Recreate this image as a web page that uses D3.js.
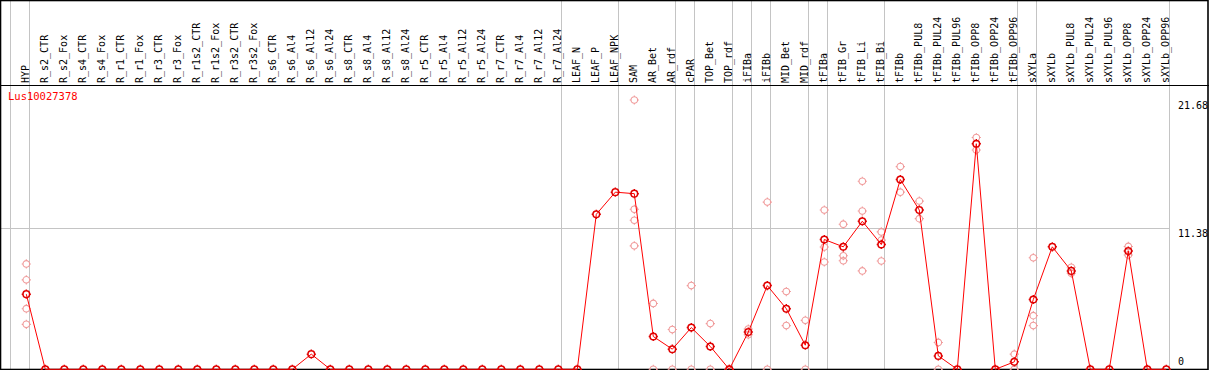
<!DOCTYPE html>
<html>
<head>
<meta charset="utf-8">
<script src="https://cdn.jsdelivr.net/npm/d3@7"></script>
<style>
  body { margin: 0; background: #fff; }
  svg { display: block; }
  text { font-family: "DejaVu Sans Mono", monospace; font-size: 10px; }
</style>
</head>
<body>
<svg id="chart" width="1209" height="370"></svg>
<script>
var title = "Lus10027378";

var samples = ["HYP",
  "R_s2_CTR", "R_s2_Fox", "R_s4_CTR", "R_s4_Fox", "R_r1_CTR", "R_r1_Fox", "R_r3_CTR", "R_r3_Fox",
  "R_r1s2_CTR", "R_r1s2_Fox", "R_r3s2_CTR", "R_r3s2_Fox",
  "R_s6_CTR", "R_s6_Al4", "R_s6_Al12", "R_s6_Al24", "R_s8_CTR", "R_s8_Al4", "R_s8_Al12", "R_s8_Al24",
  "R_r5_CTR", "R_r5_Al4", "R_r5_Al12", "R_r5_Al24", "R_r7_CTR", "R_r7_Al4", "R_r7_Al12", "R_r7_Al24",
  "LEAF_N", "LEAF_P", "LEAF_NPK",
  "SAM", "AR_Bet", "AR_rdf", "cPAR", "TOP_Bet", "TOP_rdf", "iFIBa", "iFIBb", "MID_Bet", "MID_rdf",
  "tFIBa", "tFIB_Gr", "tFIB_Li", "tFIB_Bi",
  "tFIBb", "tFIBb_PUL8", "tFIBb_PUL24", "tFIBb_PUL96", "tFIBb_OPP8", "tFIBb_OPP24", "tFIBb_OPP96",
  "sXYLa", "sXYLb", "sXYLb_PUL8", "sXYLb_PUL24", "sXYLb_PUL96", "sXYLb_OPP8", "sXYLb_OPP24", "sXYLb_OPP96"];

// how many samples in each block between the grey separators
var groupSizes = [1, 28, 3, 3, 1, 2, 1, 1, 2, 1, 3, 7, 1, 7];

var means = [6.05,
  0, 0, 0, 0, 0, 0, 0, 0,
  0, 0, 0, 0,
  0, 0, 1.22, 0, 0, 0, 0, 0,
  0, 0, 0, 0, 0, 0, 0, 0,
  0, 12.48, 14.26,
  14.14, 2.64, 1.62, 3.36, 1.84, 0, 3.0, 6.74, 4.88, 1.94,
  10.45, 9.86, 11.92, 10.05,
  15.28, 12.82, 1.08, 0, 18.16, 0, 0.6,
  5.62, 9.86, 7.92, 0, 0, 9.52, 0, 0];

// individual replicates (pale markers)
var reps = [[8.48, 7.2, 4.88, 3.62],
  [], [], [], [], [], [], [], [],
  [], [], [], [],
  [], [], [], [], [], [], [], [],
  [], [], [], [], [], [], [], [],
  [], [], [],
  [21.68, 12.88, 12.0, 9.94], [5.3, 0], [3.2, 0], [6.74, 0], [3.68, 0], [0, 0], [3.24, 2.78], [13.46, 0], [6.26, 3.52], [3.94, 0],
  [12.82, 9.84, 8.64], [11.68, 9.14, 8.74], [15.14, 12.74, 7.92], [11.06, 10.4, 8.72],
  [16.32, 14.26], [13.54, 12.13], [2.16, 0], [], [18.66, 17.65], [], [1.22, 0],
  [8.98, 4.32, 3.52], [], [8.21, 7.73], [], [], [9.89, 9.2], [], []];

var yTicks = [0, 11.38, 21.68];

var width = 1209, height = 370;
var headerBottom = 85;
var svg = d3.select("#chart");

var x = d3.scaleBand().domain(samples).range([11, 1170]);
var px = function (s) { return x(s) + 15.3; };
var y = d3.scaleLinear().domain([0, 21.68]).range([369.3, 100]);

// vertical separators
var bounds = [0];
groupSizes.reduce(function (acc, n) { bounds.push(acc + n); return acc + n; }, 0);
svg.append("g").selectAll("line")
  .data(bounds)
  .enter().append("line")
  .attr("x1", function (i) { return Math.round(x.range()[0] + i * x.step()) - 0.5; })
  .attr("x2", function (i) { return Math.round(x.range()[0] + i * x.step()) - 0.5; })
  .attr("y1", 0).attr("y2", height)
  .attr("stroke", "#c4c4c4").attr("stroke-width", 1);

// horizontal grid line at middle tick
svg.append("line")
  .attr("x1", 0).attr("x2", 1170)
  .attr("y1", Math.round(y(yTicks[1])) + 0.5).attr("y2", Math.round(y(yTicks[1])) + 0.5)
  .attr("stroke", "#c4c4c4");

// header labels
svg.append("g").selectAll("text")
  .data(samples)
  .enter().append("text")
  .attr("transform", function (d) { return "translate(" + (px(d) + 3) + "," + 83 + ") rotate(-90)"; })
  .attr("fill", "#000")
  .text(function (d) { return d; });

// frame
svg.append("line").attr("x1", 0).attr("x2", width).attr("y1", headerBottom + 0.5).attr("y2", headerBottom + 0.5).attr("stroke", "#000");
svg.append("rect").attr("x", 0.5).attr("y", 0.5).attr("width", width - 1.5).attr("height", height - 1)
  .attr("fill", "none").attr("stroke", "#000").attr("stroke-width", 1.6);

// y labels
svg.append("g").selectAll("text")
  .data(yTicks)
  .enter().append("text")
  .attr("x", 1178)
  .attr("y", function (d) { return d === 0 ? y(d) - 4 : y(d) + 9; })
  .text(function (d) { return d; });

svg.append("text").attr("x", 8).attr("y", 100).attr("fill", "#f00").style("font-size", "10.5px").text(title);

function marker(r, t) {
  return "M" + r + ",0A" + r + "," + r + " 0 1,1 " + (-r) + ",0A" + r + "," + r + " 0 1,1 " + r + ",0" +
    "M0," + (-r) + "V" + (-r - t) + "M0," + r + "V" + (r + t) +
    "M" + (-r) + ",0H" + (-r - t) + "M" + r + ",0H" + (r + t);
}

var repPts = [];
samples.forEach(function (s, i) {
  reps[i].forEach(function (v) { repPts.push({ s: s, v: v }); });
});
svg.append("g").selectAll("path")
  .data(repPts)
  .enter().append("path")
  .attr("d", marker(3.3, 1.3))
  .attr("transform", function (d) { return "translate(" + px(d.s) + "," + y(d.v) + ")"; })
  .attr("fill", "none").attr("stroke", "#f09a9a").attr("stroke-width", 1.1);

var line = d3.line()
  .x(function (d, i) { return px(samples[i]); })
  .y(function (d) { return y(d); });
svg.append("path").datum(means)
  .attr("d", line)
  .attr("fill", "none").attr("stroke", "#f00").attr("stroke-width", 1);

svg.append("g").selectAll("path")
  .data(means)
  .enter().append("path")
  .attr("d", marker(3.3, 1.3))
  .attr("transform", function (d, i) { return "translate(" + px(samples[i]) + "," + y(d) + ")"; })
  .attr("fill", "none").attr("stroke", "#e00000").attr("stroke-width", 1.5);
</script>
</body>
</html>
